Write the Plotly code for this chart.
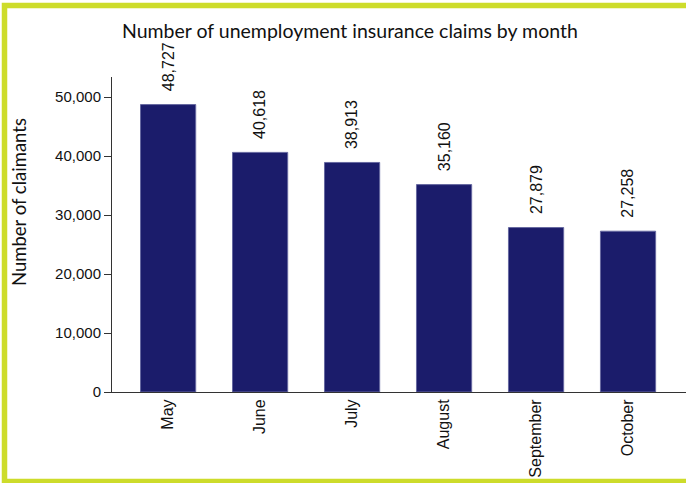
import plotly.graph_objects as go

months = ["May", "June", "July", "August", "September", "October"]
claims = [48727, 40618, 38913, 35160, 27879, 27258]
y_ticks = [0, 10000, 20000, 30000, 40000, 50000]
title_text = "Number of unemployment insurance claims by month"
y_title = "Number of claimants"

W, H = 686, 483
ML, MR, MT, MB = 112, 0, 77, 91
pw, ph = W - ML - MR, H - MT - MB

def px_x(x):
    return (x - ML) / pw

def px_y(y):
    return (H - MB - y) / ph

fig = go.Figure()
fig.add_trace(go.Bar(
    x=list(range(len(months))), y=claims,
    marker=dict(color="#1b1c6b", line=dict(color="#6668a0", width=1)),
    width=0.6, hoverinfo="skip",
))

annotations = []
for i, v in enumerate(claims):
    annotations.append(dict(
        x=i, y=v, xref="x", yref="y", text=f"{v:,}", showarrow=False,
        textangle=-90, yanchor="bottom", xanchor="center", yshift=11,
        font=dict(family="Liberation Sans, Arial", size=16, color="#111"),
    ))
annotations.append(dict(
    x=px_x(19), y=px_y(202), xref="paper", yref="paper", text=y_title,
    showarrow=False, textangle=-90, xanchor="center", yanchor="middle",
    font=dict(family="Lato, Noto Sans", size=18.5, color="#111"),
))
annotations.append(dict(
    x=px_x(350), y=px_y(30), xref="paper", yref="paper", text=title_text,
    showarrow=False, xanchor="center", yanchor="middle",
    font=dict(family="Lato, Noto Sans", size=19.5, color="#111"),
))

fig.update_layout(
    width=W, height=H, margin=dict(l=ML, r=MR, t=MT, b=MB, autoexpand=False),
    plot_bgcolor="white", paper_bgcolor="white", showlegend=False,
    hovermode=False,
    annotations=annotations,
    shapes=[dict(type="rect", xref="paper", yref="paper",
                 x0=px_x(4.5), x1=px_x(700), y0=px_y(481.5), y1=px_y(5.5),
                 line=dict(color="#cddc2b", width=5.5), fillcolor="rgba(0,0,0,0)",
                 layer="above")],
    xaxis=dict(
        tickmode="array", tickvals=list(range(len(months))), ticktext=months,
        range=[-0.61, 5.63], showline=True, linecolor="#333", linewidth=1,
        ticks="", tickangle=-90, showgrid=False, zeroline=False, automargin=False,
        tickfont=dict(family="Liberation Sans, Arial", size=16, color="#111"),
    ),
    yaxis=dict(
        range=[0, 53400], tickvals=y_ticks, tickformat=",", showline=True,
        linecolor="#333", linewidth=1, ticks="outside", ticklen=7,
        tickcolor="#333", showgrid=False, zeroline=False, automargin=False,
        tickfont=dict(family="Liberation Sans, Arial", size=15, color="#111"),
    ),
)

fig.write_html("out.html", config={"displayModeBar": False},
               post_script="document.body.style.margin='0';")
